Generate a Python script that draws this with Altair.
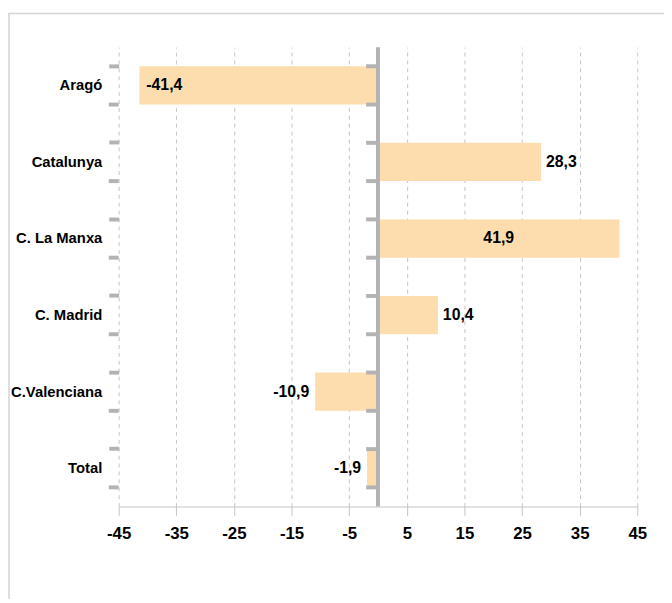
import altair as alt
import pandas as pd

categories = ["Aragó", "Catalunya", "C. La Manxa", "C. Madrid", "C.Valenciana", "Total"]
values = [-41.4, 28.3, 41.9, 10.4, -10.9, -1.9]
tick_values = [-45, -35, -25, -15, -5, 5, 15, 25, 35, 45]

FONT = "Liberation Sans"
df = pd.DataFrame({"cat": categories, "v": values})
one = pd.DataFrame({"k": [0]})

W, H = 525, 465
GRAY = "#b3b3b3"

xscale = alt.Scale(domain=[-45, 45], nice=False, zero=False)
ysort = categories

base = alt.Chart(df)

border = alt.Chart(one).mark_rect(fill="transparent", stroke="#d4d4d4", strokeWidth=1.5).encode(
    x=alt.value(-111), x2=alt.value(800), y=alt.value(-34), y2=alt.value(800)
)

bars = base.mark_bar(color="#FDDDAE").encode(
    x=alt.X("v:Q", scale=xscale, title=None,
            axis=alt.Axis(values=tick_values, grid=True, gridDash=[4, 4], gridColor="#c4c4c4",
                          domainColor="#c4c4c4", tickColor="#c4c4c4", tickSize=9,
                          labelPadding=10, labelFontSize=17, labelFontWeight="bold",
                          labelColor="black", labelFont=FONT, labelFlush=False,
                          labelExpr="toString(datum.value)")),
    y=alt.Y("cat:N", sort=ysort, title=None,
            scale=alt.Scale(paddingInner=0.5, paddingOuter=0.25),
            axis=alt.Axis(domain=False, grid=False, bandPosition=0, ticks=True,
                          tickColor=GRAY, tickWidth=4, tickSize=10, labelPadding=7,
                          labelFontSize=15, labelFontWeight="bold", labelColor="black",
                          labelFont=FONT)),
)

left_end_ticks = base.mark_rule(color=GRAY, strokeWidth=4).encode(
    x=alt.value(-10), x2=alt.value(0),
    y=alt.Y("cat:N", sort=ysort, bandPosition=1),
)

zero_line = alt.Chart(one).mark_rule(color=GRAY, strokeWidth=4).encode(x=alt.datum(0))

zero_ticks_a = base.mark_rule(color=GRAY, strokeWidth=4, xOffset=-12).encode(
    x=alt.datum(0), x2=alt.datum(0),
    y=alt.Y("cat:N", sort=ysort, bandPosition=0),
)
zero_ticks_b = base.mark_rule(color=GRAY, strokeWidth=4, xOffset=-12).encode(
    x=alt.datum(0), x2=alt.datum(0),
    y=alt.Y("cat:N", sort=ysort, bandPosition=1),
)

lab = base.transform_calculate(
    label="replace(toString(datum.v), '.', ',')",
    mid="datum.v / 2",
)
tstyle = dict(fontSize=16, fontWeight="bold", font=FONT, color="black", baseline="middle")

out_pos = lab.transform_filter(
    alt.FieldOneOfPredicate(field="cat", oneOf=["Catalunya", "C. Madrid"])
).mark_text(align="left", dx=5, **tstyle).encode(
    x="v:Q", y=alt.Y("cat:N", sort=ysort), text="label:N")

out_neg = lab.transform_filter(
    alt.FieldOneOfPredicate(field="cat", oneOf=["C.Valenciana", "Total"])
).mark_text(align="right", dx=-6, **tstyle).encode(
    x="v:Q", y=alt.Y("cat:N", sort=ysort), text="label:N")

in_end = lab.transform_filter(
    alt.FieldOneOfPredicate(field="cat", oneOf=["Aragó"])
).mark_text(align="left", dx=7, **tstyle).encode(
    x="v:Q", y=alt.Y("cat:N", sort=ysort), text="label:N")

center = lab.transform_filter(
    alt.FieldOneOfPredicate(field="cat", oneOf=["C. La Manxa"])
).mark_text(align="center", **tstyle).encode(
    x="mid:Q", y=alt.Y("cat:N", sort=ysort), text="label:N")

chart = alt.layer(
    border, bars, left_end_ticks, zero_line, zero_ticks_a, zero_ticks_b,
    out_pos, out_neg, in_end, center
).properties(
    width=W, height=H,
    background="white",
    padding={"left": 112, "top": 36, "right": 27, "bottom": 90},
    autosize=alt.AutoSizeParams(type="none"),
).configure_view(stroke=None)

chart.save("out.html", embed_options={"renderer": "svg", "actions": False})
